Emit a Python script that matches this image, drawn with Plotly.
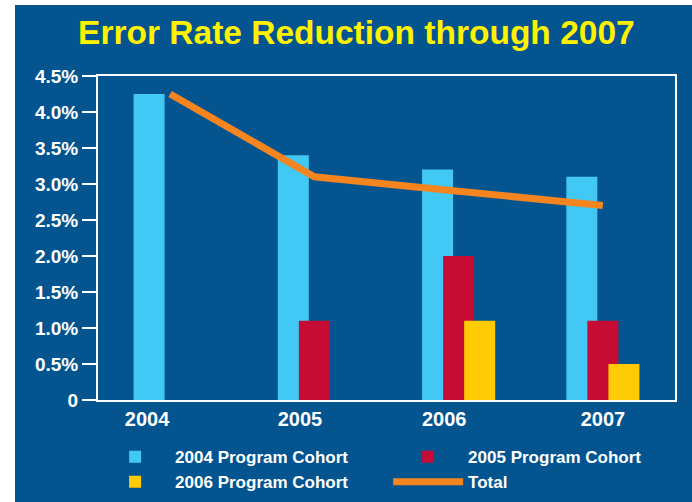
import plotly.graph_objects as go

years = ['2004', '2005', '2006', '2007']
cohort_2004 = [4.25, 3.4, 3.2, 3.1]
cohort_2005 = [None, 1.1, 2.0, 1.1]
cohort_2006 = [None, None, 1.1, 0.5]
total = [4.25, 3.1, 2.9, 2.7]

y_ticks = [0, 0.5, 1.0, 1.5, 2.0, 2.5, 3.0, 3.5, 4.0, 4.5]
y_labels = ['0', '0.5%', '1.0%', '1.5%', '2.0%', '2.5%', '3.0%', '3.5%', '4.0%', '4.5%']

BG = '#03548f'
FONT = 'Liberation Sans, Arial, sans-serif'

xs = list(range(len(years)))
bar_w = 0.215
step = 0.146

fig = go.Figure()
fig.add_trace(go.Bar(x=xs, y=cohort_2004, name='2004 Program Cohort',
                     width=bar_w, offset=-step - bar_w / 2,
                     marker=dict(color='#42c8f4', line=dict(width=0))))
fig.add_trace(go.Bar(x=xs, y=cohort_2005, name='2005 Program Cohort',
                     width=bar_w, offset=-bar_w / 2,
                     marker=dict(color='#c60c35', line=dict(width=0))))
fig.add_trace(go.Bar(x=xs, y=cohort_2006, name='2006 Program Cohort',
                     width=bar_w, offset=step - bar_w / 2,
                     marker=dict(color='#ffcb05', line=dict(width=0))))
fig.add_trace(go.Scatter(x=xs, y=total, name='Total', mode='lines',
                         line=dict(color='#f6851f', width=7)))

# year labels sit a little left of the group centre in the original
label_shift = [-0.16, -0.1, -0.1, 0.0]

fig.update_layout(
    width=692, height=502,
    margin=dict(l=98, r=17, t=76, b=102, autoexpand=False),
    paper_bgcolor='white',
    plot_bgcolor=BG,
    barmode='overlay',
    font=dict(family=FONT, color='white'),
    title=dict(text='Error Rate Reduction through 2007',
               x=0.515, xanchor='center', xref='container',
               y=0.935, yanchor='middle', yref='container',
               font=dict(size=33.5, color='#fff200', family=FONT, weight='bold')),
    xaxis=dict(
        range=[-0.5, 3.5],
        tickvals=[x + s for x, s in zip(xs, label_shift)],
        ticktext=years,
        tickfont=dict(size=20, weight='bold'),
        ticks='', showgrid=False, zeroline=False,
        showline=True, linecolor='white', linewidth=2, mirror=True,
    ),
    yaxis=dict(
        range=[0, 4.5],
        tickvals=y_ticks,
        ticktext=y_labels,
        tickfont=dict(size=19, weight='bold'),
        ticks='outside', ticklen=14, tickwidth=2, tickcolor='white',
        showgrid=False, zeroline=False,
        showline=True, linecolor='white', linewidth=2, mirror=True,
    ),
    legend=dict(
        orientation='h',
        x=-0.005, xanchor='left',
        y=-0.121, yanchor='top',
        entrywidth=208, entrywidthmode='pixels',
        itemwidth=70,
        font=dict(size=17, family=FONT, color='white', weight='bold'),
        bgcolor='rgba(0,0,0,0)',
        traceorder='normal',
    ),
    shapes=[dict(type='rect', xref='paper', yref='paper', layer='below',
                 x0=-83 / 577, x1=1 + 20 / 577,
                 y0=-105 / 324, y1=1 + 71 / 324,
                 fillcolor=BG, line=dict(width=0))],
)

fig.write_html('out.html', config={'displayModeBar': False},
               post_script="document.body.style.margin = '0';")
